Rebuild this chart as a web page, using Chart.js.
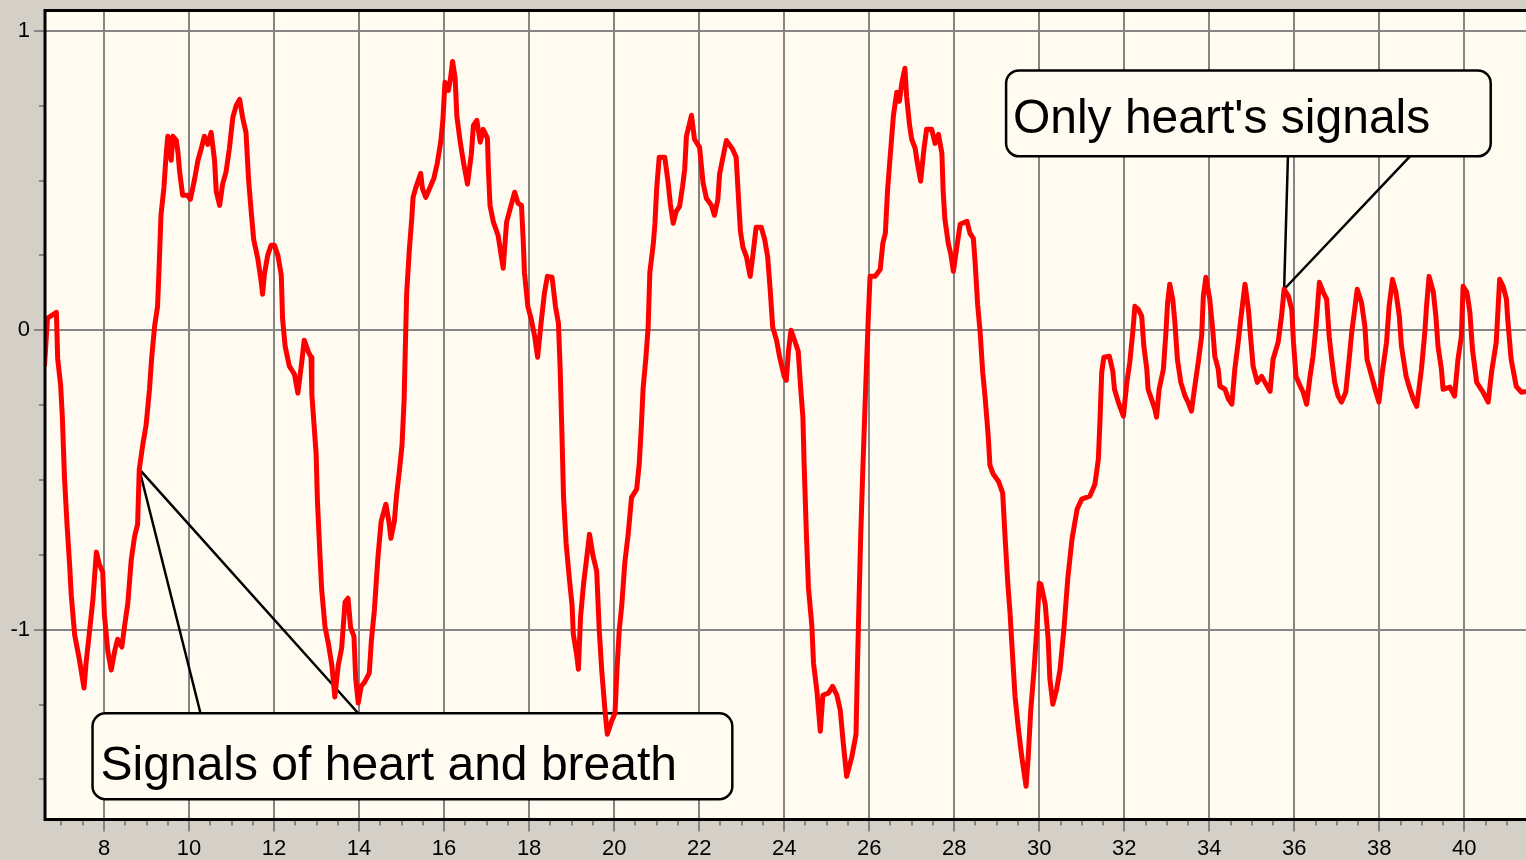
<!DOCTYPE html>
<html>
<head>
<meta charset="utf-8">
<title>Signals of heart and breath</title>
<script src="https://cdn.jsdelivr.net/npm/chart.js@4.4.0/dist/chart.umd.min.js"></script>
<style>
  html, body { margin: 0; padding: 0; background: #d4d0c8; overflow: hidden; }
  #wrap { width: 1526px; height: 860px; }
</style>
</head>
<body>
<div id="wrap"><canvas id="signalChart" width="1526" height="860"></canvas></div>
<script>

// time axis (s) and sensor signal
const timeSec = [
  6.60, 6.67, 6.88, 6.91, 6.98, 7.02, 7.07, 7.13, 7.19, 7.23,
  7.31, 7.42, 7.53, 7.58, 7.66, 7.74, 7.82, 7.89, 7.97, 8.01,
  8.09, 8.17, 8.25, 8.32, 8.42, 8.48, 8.56, 8.64, 8.72, 8.79,
  8.83, 8.91, 8.99, 9.07, 9.12, 9.19, 9.26, 9.30, 9.34, 9.41,
  9.46, 9.50, 9.58, 9.62, 9.70, 9.74, 9.78, 9.85, 9.97, 10.03,
  10.13, 10.21, 10.29, 10.36, 10.44, 10.52, 10.60, 10.64, 10.72, 10.79,
  10.87, 10.95, 11.03, 11.11, 11.19, 11.26, 11.34, 11.40, 11.47, 11.52,
  11.62, 11.70, 11.73, 11.77, 11.85, 11.93, 12.01, 12.09, 12.17, 12.20,
  12.26, 12.36, 12.48, 12.56, 12.64, 12.71, 12.81, 12.87, 12.89, 12.94,
  12.99, 13.02, 13.08, 13.12, 13.20, 13.28, 13.36, 13.43, 13.51, 13.59,
  13.67, 13.74, 13.80, 13.88, 13.92, 13.98, 14.05, 14.13, 14.24, 14.29,
  14.36, 14.44, 14.52, 14.63, 14.70, 14.75, 14.83, 14.88, 14.95, 15.01,
  15.06, 15.09, 15.12, 15.18, 15.24, 15.27, 15.33, 15.45, 15.49, 15.57,
  15.68, 15.76, 15.84, 15.92, 15.97, 16.02, 16.10, 16.15, 16.20, 16.26,
  16.30, 16.38, 16.46, 16.55, 16.64, 16.69, 16.77, 16.85, 16.92, 17.02,
  17.04, 17.08, 17.16, 17.27, 17.39, 17.47, 17.55, 17.66, 17.74, 17.82,
  17.86, 17.89, 17.97, 18.05, 18.13, 18.20, 18.28, 18.36, 18.43, 18.54,
  18.62, 18.69, 18.73, 18.77, 18.81, 18.87, 18.95, 19.01, 19.04, 19.12,
  19.16, 19.21, 19.28, 19.34, 19.42, 19.50, 19.59, 19.65, 19.71, 19.79,
  19.84, 19.94, 20.02, 20.07, 20.12, 20.18, 20.25, 20.33, 20.41, 20.53,
  20.59, 20.64, 20.68, 20.75, 20.80, 20.84, 20.92, 20.96, 21.00, 21.06,
  21.19, 21.27, 21.32, 21.39, 21.46, 21.54, 21.61, 21.66, 21.70, 21.82,
  21.89, 22.01, 22.09, 22.17, 22.29, 22.36, 22.44, 22.48, 22.56, 22.64,
  22.79, 22.87, 22.92, 22.97, 23.03, 23.11, 23.20, 23.26, 23.34, 23.46,
  23.54, 23.61, 23.67, 23.73, 23.82, 23.89, 24.00, 24.05, 24.10, 24.16,
  24.26, 24.33, 24.39, 24.44, 24.47, 24.52, 24.57, 24.65, 24.69, 24.77,
  24.85, 24.91, 25.04, 25.14, 25.24, 25.32, 25.39, 25.47, 25.59, 25.69,
  25.72, 25.76, 25.80, 25.85, 25.90, 25.94, 25.98, 26.02, 26.14, 26.26,
  26.32, 26.38, 26.43, 26.49, 26.57, 26.65, 26.71, 26.77, 26.84, 26.88,
  26.95, 27.00, 27.08, 27.13, 27.21, 27.29, 27.35, 27.47, 27.55, 27.63,
  27.71, 27.74, 27.78, 27.86, 27.92, 27.98, 28.06, 28.14, 28.30, 28.37,
  28.45, 28.49, 28.55, 28.61, 28.67, 28.73, 28.80, 28.84, 28.92, 29.04,
  29.14, 29.20, 29.26, 29.31, 29.37, 29.43, 29.51, 29.59, 29.69, 29.74,
  29.80, 29.88, 29.94, 30.00, 30.04, 30.14, 30.21, 30.25, 30.32, 30.41,
  30.49, 30.58, 30.67, 30.77, 30.89, 31.00, 31.19, 31.31, 31.39, 31.43,
  31.47, 31.52, 31.65, 31.73, 31.77, 31.86, 31.98, 32.06, 32.13, 32.20,
  32.25, 32.33, 32.41, 32.46, 32.53, 32.56, 32.64, 32.72, 32.76, 32.82,
  32.92, 32.98, 33.02, 33.07, 33.14, 33.19, 33.25, 33.33, 33.43, 33.50,
  33.58, 33.66, 33.74, 33.82, 33.86, 33.92, 34.01, 34.08, 34.13, 34.21,
  34.25, 34.37, 34.45, 34.53, 34.60, 34.68, 34.74, 34.84, 34.92, 34.97,
  35.03, 35.13, 35.23, 35.31, 35.43, 35.50, 35.62, 35.70, 35.76, 35.86,
  35.94, 35.98, 36.04, 36.14, 36.21, 36.29, 36.37, 36.44, 36.51, 36.59,
  36.68, 36.76, 36.82, 36.88, 36.95, 37.03, 37.11, 37.21, 37.29, 37.35,
  37.43, 37.48, 37.58, 37.66, 37.71, 37.82, 37.92, 37.99, 38.07, 38.17,
  38.23, 38.31, 38.39, 38.47, 38.52, 38.63, 38.72, 38.80, 38.88, 38.99,
  39.07, 39.11, 39.17, 39.27, 39.33, 39.38, 39.46, 39.50, 39.66, 39.77,
  39.85, 39.93, 39.97, 40.06, 40.13, 40.19, 40.29, 40.44, 40.56, 40.64,
  40.75, 40.83, 40.91, 40.99, 41.02, 41.10, 41.22, 41.34, 41.45
];

const signal = [
  -0.120, 0.040, 0.060, -0.094, -0.184, -0.290, -0.491, -0.648, -0.781, -0.885,
  -1.018, -1.099, -1.195, -1.109, -1.005, -0.898, -0.741, -0.781, -0.808, -0.952,
  -1.072, -1.135, -1.072, -1.032, -1.058, -0.992, -0.912, -0.768, -0.688, -0.648,
  -0.464, -0.384, -0.317, -0.197, -0.094, 0.013, 0.080, 0.224, 0.384, 0.477,
  0.584, 0.648, 0.568, 0.648, 0.634, 0.594, 0.528, 0.451, 0.451, 0.437,
  0.504, 0.568, 0.608, 0.648, 0.621, 0.661, 0.568, 0.464, 0.417, 0.488,
  0.528, 0.608, 0.711, 0.751, 0.771, 0.711, 0.661, 0.504, 0.384, 0.304,
  0.237, 0.160, 0.120, 0.184, 0.250, 0.284, 0.284, 0.250, 0.184, 0.040,
  -0.053, -0.120, -0.147, -0.210, -0.120, -0.033, -0.073, -0.090, -0.217, -0.314,
  -0.414, -0.568, -0.751, -0.865, -0.992, -1.048, -1.119, -1.225, -1.119, -1.062,
  -0.908, -0.895, -0.992, -1.022, -1.162, -1.245, -1.189, -1.175, -1.145, -1.035,
  -0.935, -0.765, -0.638, -0.581, -0.638, -0.695, -0.638, -0.554, -0.467, -0.384,
  -0.230, -0.047, 0.124, 0.264, 0.374, 0.444, 0.474, 0.524, 0.474, 0.444,
  0.481, 0.508, 0.558, 0.628, 0.698, 0.828, 0.801, 0.841, 0.898, 0.841,
  0.715, 0.628, 0.558, 0.488, 0.588, 0.684, 0.701, 0.628, 0.671, 0.641,
  0.544, 0.417, 0.361, 0.317, 0.207, 0.361, 0.404, 0.461, 0.424, 0.417,
  0.304, 0.194, 0.080, 0.037, -0.020, -0.090, 0.023, 0.124, 0.180, 0.177,
  0.080, 0.023, -0.127, -0.334, -0.558, -0.711, -0.835, -0.918, -1.015, -1.085,
  -1.132, -0.958, -0.848, -0.778, -0.681, -0.751, -0.805, -1.002, -1.139, -1.279,
  -1.349, -1.306, -1.279, -1.125, -1.002, -0.918, -0.778, -0.681, -0.558, -0.531,
  -0.447, -0.321, -0.197, -0.087, 0.010, 0.194, 0.287, 0.357, 0.471, 0.578,
  0.578, 0.494, 0.424, 0.357, 0.397, 0.414, 0.481, 0.538, 0.648, 0.718,
  0.638, 0.611, 0.494, 0.441, 0.417, 0.384, 0.437, 0.521, 0.578, 0.634,
  0.604, 0.578, 0.454, 0.331, 0.277, 0.247, 0.180, 0.247, 0.344, 0.344,
  0.304, 0.247, 0.137, 0.010, -0.033, -0.087, -0.154, -0.167, -0.070, 0.000,
  -0.040, -0.070, -0.197, -0.290, -0.451, -0.671, -0.858, -0.985, -1.112, -1.205,
  -1.339, -1.219, -1.212, -1.189, -1.219, -1.269, -1.379, -1.490, -1.426, -1.349,
  -1.142, -0.908, -0.688, -0.464, -0.260, -0.104, 0.047, 0.180, 0.180, 0.204,
  0.290, 0.324, 0.464, 0.574, 0.718, 0.795, 0.765, 0.828, 0.875, 0.781,
  0.684, 0.638, 0.608, 0.561, 0.498, 0.608, 0.671, 0.671, 0.624, 0.654,
  0.591, 0.464, 0.371, 0.290, 0.254, 0.197, 0.277, 0.354, 0.364, 0.324,
  0.307, 0.230, 0.087, -0.007, -0.140, -0.230, -0.354, -0.451, -0.481, -0.504,
  -0.544, -0.701, -0.845, -0.938, -1.082, -1.222, -1.332, -1.426, -1.523, -1.426,
  -1.269, -1.129, -1.002, -0.845, -0.848, -0.915, -1.032, -1.165, -1.249, -1.199,
  -1.132, -0.999, -0.831, -0.698, -0.598, -0.564, -0.554, -0.514, -0.431, -0.297,
  -0.140, -0.090, -0.087, -0.137, -0.197, -0.240, -0.287, -0.174, -0.107, -0.007,
  0.080, 0.070, 0.047, -0.053, -0.130, -0.197, -0.230, -0.264, -0.290, -0.197,
  -0.130, -0.007, 0.093, 0.154, 0.104, 0.027, -0.097, -0.174, -0.220, -0.240,
  -0.270, -0.187, -0.107, -0.020, 0.114, 0.177, 0.104, 0.003, -0.087, -0.130,
  -0.187, -0.197, -0.230, -0.247, -0.130, -0.040, 0.037, 0.154, 0.070, -0.020,
  -0.120, -0.174, -0.154, -0.174, -0.204, -0.097, -0.040, 0.047, 0.137, 0.114,
  0.070, -0.040, -0.154, -0.187, -0.207, -0.247, -0.154, -0.087, 0.013, 0.160,
  0.127, 0.104, -0.020, -0.097, -0.174, -0.220, -0.240, -0.207, -0.097, -0.007,
  0.080, 0.137, 0.093, 0.013, -0.097, -0.154, -0.207, -0.240, -0.140, -0.040,
  0.080, 0.170, 0.127, 0.047, -0.053, -0.154, -0.197, -0.230, -0.254, -0.130,
  -0.007, 0.080, 0.180, 0.127, 0.047, -0.053, -0.130, -0.197, -0.190, -0.220,
  -0.097, -0.020, 0.147, 0.127, 0.060, -0.063, -0.174, -0.207, -0.240, -0.140,
  -0.040, 0.170, 0.147, 0.104, 0.037, -0.097, -0.187, -0.207, -0.204
];

const xTickLabels = [8, 10, 12, 14, 16, 18, 20, 22, 24, 26, 28, 30, 32, 34, 36, 38, 40];
const yTickLabels = [-1, 0, 1];
const xMinorStep = 0.5;
const yMinorStep = 0.25;
const xRange = [6.612, 41.45];
const yRange = [-1.634, 1.068];

// callout boxes, in axis units: box = [x0, x1, yTop, yBottom]
const callouts = [
  { text: `Only heart's signals`, box: [29.22, 40.62, 0.868, 0.581], textAt: [29.38, 0.658],
    feet: [35.85, 38.72], footY: 0.581, tip: [35.76, 0.137] },
  { text: `Signals of heart and breath`, box: [7.73, 22.78, -1.279, -1.566], textAt: [7.92, -1.503],
    feet: [10.27, 13.98], footY: -1.279, tip: [8.83, -0.464] }
];

const fontFamily = `"Liberation Sans", Arial, sans-serif`;
const gridColor = '#858585';

function roundBox(ctx, x0, y0, x1, y1, r) {
     ctx.beginPath();
     ctx.moveTo(x0 + r, y0);
     ctx.arcTo(x1, y0, x1, y1, r);
     ctx.arcTo(x1, y1, x0, y1, r);
     ctx.arcTo(x0, y1, x0, y0, r);
     ctx.arcTo(x0, y0, x1, y0, r);
     ctx.closePath();
}

function drawCallouts(chart) {
     const { ctx } = chart;
     const xs = chart.scales.x;
     const ys = chart.scales.y;

     ctx.save();
     ctx.strokeStyle = '#000';
     callouts.forEach((c) => {
          const tipX = xs.getPixelForValue(c.tip[0]);
          const tipY = ys.getPixelForValue(c.tip[1]);
          const footY = ys.getPixelForValue(c.footY);

          // pointer lines
          ctx.lineWidth = 2.5;
          ctx.beginPath();
          c.feet.forEach((f) => {
               ctx.moveTo(xs.getPixelForValue(f), footY);
               ctx.lineTo(tipX, tipY);
          });
          ctx.stroke();

          // the box
          roundBox(ctx,
               xs.getPixelForValue(c.box[0]), ys.getPixelForValue(c.box[2]),
               xs.getPixelForValue(c.box[1]), ys.getPixelForValue(c.box[3]), 13);
          ctx.fillStyle = '#fffbf0';
          ctx.fill();
          ctx.lineWidth = 2.5;
          ctx.stroke();

          ctx.fillStyle = '#000';
          ctx.font = `48px ${fontFamily}`;
          ctx.textBaseline = 'alphabetic';
          ctx.textAlign = 'left';
          ctx.fillText(c.text, xs.getPixelForValue(c.textAt[0]), ys.getPixelForValue(c.textAt[1]));
     });
     ctx.restore();
}

function drawAxisTicks(chart) {
     const { ctx, chartArea: a } = chart;
     const xs = chart.scales.x;
     const ys = chart.scales.y;

     ctx.save();
     ctx.strokeStyle = gridColor;
     ctx.lineWidth = 2;
     ctx.beginPath();
     for (let v = Math.ceil(xs.min / xMinorStep) * xMinorStep; v <= xs.max; v += xMinorStep) {
          const px = Math.round(xs.getPixelForValue(v));
          const len = xTickLabels.includes(Math.round(v * 100) / 100) ? 12 : 6;
          ctx.moveTo(px, a.bottom);
          ctx.lineTo(px, a.bottom + len);
     }
     for (let v = Math.ceil(ys.min / yMinorStep) * yMinorStep; v <= ys.max; v += yMinorStep) {
          const py = Math.round(ys.getPixelForValue(v));
          const len = yTickLabels.includes(Math.round(v * 100) / 100) ? 11 : 6;
          ctx.moveTo(a.left, py);
          ctx.lineTo(a.left - len, py);
     }
     ctx.stroke();

     // frame: left, top and bottom edges
     ctx.strokeStyle = '#000';
     ctx.lineWidth = 3;
     ctx.beginPath();
     ctx.moveTo(a.right, a.top);
     ctx.lineTo(a.left, a.top);
     ctx.lineTo(a.left, a.bottom);
     ctx.lineTo(a.right, a.bottom);
     ctx.stroke();
     ctx.restore();
}

const plotFrame = {
     id: 'plotFrame',
     beforeDraw(chart) {
          const { ctx, chartArea: a } = chart;
          ctx.save();
          ctx.fillStyle = '#fffbf0';
          ctx.fillRect(a.left, a.top, a.right - a.left, a.bottom - a.top);
          ctx.restore();
     },
     beforeDatasetsDraw(chart) {
          drawCallouts(chart);
     },
     afterDraw(chart) {
          drawAxisTicks(chart);
     }
};

const chartData = {
     datasets: [
          {
               label: 'Signal',
               data: timeSec.map((t, i) => ({ x: t, y: signal[i] })),
               borderColor: '#ff0000',
               borderWidth: 5,
               borderJoinStyle: 'round',
               pointRadius: 0,
               tension: 0,
               fill: false
          }
     ]
};

const ctx = document.getElementById(`signalChart`).getContext('2d');
window.signalChartInstance = new Chart(ctx, {
     type: 'line',
     data: chartData,
     plugins: [plotFrame],
     options: {
          responsive: false,
          animation: false,
          layout: { padding: { top: 10.5, left: 0, right: 0, bottom: 0 } },
          plugins: {
               legend: { display: false },
               tooltip: { enabled: false }
          },
          scales: {
               x: {
                    type: 'linear',
                    min: xRange[0],
                    max: xRange[1],
                    afterBuildTicks: (s) => { s.ticks = xTickLabels.map((v) => ({ value: v })); },
                    afterFit: (s) => { s.height = 40.5; s.paddingLeft = 0; s.paddingRight = 0; },
                    grid: { color: gridColor, lineWidth: 2, drawTicks: false },
                    border: { display: false },
                    ticks: {
                         color: '#000',
                         font: { family: fontFamily, size: 22 },
                         padding: 16,
                         maxRotation: 0,
                         autoSkip: false
                    }
               },
               y: {
                    type: 'linear',
                    min: yRange[0],
                    max: yRange[1],
                    afterBuildTicks: (s) => { s.ticks = yTickLabels.map((v) => ({ value: v })); },
                    afterFit: (s) => { s.width = 45; s.paddingTop = 0; s.paddingBottom = 0; },
                    grid: { color: gridColor, lineWidth: 2, drawTicks: false },
                    border: { display: false },
                    ticks: {
                         color: '#000',
                         font: { family: fontFamily, size: 22 },
                         padding: 15,
                         autoSkip: false
                    }
               }
          }
     }
});
</script>
</body>
</html>
